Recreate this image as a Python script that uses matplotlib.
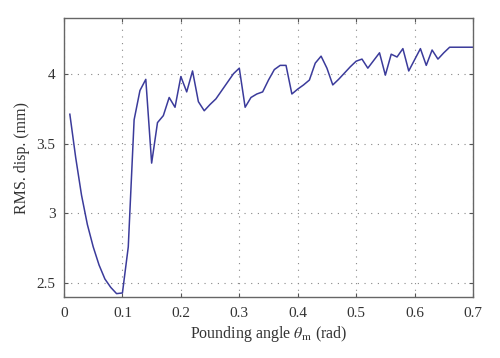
import matplotlib
matplotlib.use("Agg")
import matplotlib.pyplot as plt
import numpy as np

plt.rcParams['font.family'] = ['Liberation Serif', 'DejaVu Serif']
plt.rcParams['mathtext.fontset'] = 'stix'

theta = [0.01, 0.02, 0.03, 0.04, 0.05, 0.06, 0.07, 0.08, 0.09, 0.10,
         0.11, 0.12, 0.13, 0.14, 0.15, 0.16, 0.17, 0.18, 0.19, 0.20,
         0.21, 0.22, 0.23, 0.24, 0.25, 0.26, 0.27, 0.28, 0.29, 0.30,
         0.31, 0.32, 0.33, 0.34, 0.35, 0.36, 0.37, 0.38, 0.39, 0.40,
         0.41, 0.42, 0.43, 0.44, 0.45, 0.46, 0.47, 0.48, 0.49, 0.50,
         0.51, 0.52, 0.53, 0.54, 0.55, 0.56, 0.57, 0.58, 0.59, 0.60,
         0.61, 0.62, 0.63, 0.64, 0.65, 0.66, 0.67, 0.68, 0.69, 0.70]
rms = [3.71, 3.40, 3.13, 2.92, 2.76, 2.63, 2.53, 2.47, 2.425, 2.43,
       2.76, 3.67, 3.88, 3.96, 3.36, 3.65, 3.70, 3.83, 3.76, 3.98,
       3.87, 4.02, 3.80, 3.735, 3.78, 3.82, 3.88, 3.94, 4.00, 4.04,
       3.76, 3.83, 3.855, 3.87, 3.955, 4.03, 4.06, 4.06, 3.855, 3.89,
       3.92, 3.955, 4.076, 4.126, 4.04, 3.92, 3.96, 4.005, 4.05, 4.09,
       4.105, 4.04, 4.095, 4.15, 3.99, 4.14, 4.12, 4.18, 4.02, 4.10,
       4.18, 4.06, 4.17, 4.105, 4.15, 4.19, 4.19, 4.19, 4.19, 4.19]

xticks = [0, 0.1, 0.2, 0.3, 0.4, 0.5, 0.6, 0.7]
xticklabels = ['0', '0.1', '0.2', '0.3', '0.4', '0.5', '0.6', '0.7']
yticks = [2.5, 3, 3.5, 4]
yticklabels = ['2.5', '3', '3.5', '4']

fig = plt.figure(figsize=(5.0, 3.58), dpi=100)
ax = fig.add_axes([0.128, 0.170, 0.818, 0.780])
ax.plot(theta, rms, color='#3B3B9B', lw=1.1)
ax.set_xlim(0, 0.7)
ax.set_ylim(2.4, 4.4)
ax.set_xticks(xticks)
ax.set_xticklabels(xticklabels)
ax.set_yticks(yticks)
ax.set_yticklabels(yticklabels)
ax.grid(True, linestyle=(0, (1, 5)), color='#888888', lw=0.8)
ax.tick_params(direction='in', top=True, right=True, labelsize=11,
               color='#555555', length=3, labelcolor='#333333')
ax.tick_params(axis='x', pad=7)
ax.tick_params(axis='y', pad=6)
for s in ax.spines.values():
    s.set_color('#666666')
    s.set_linewidth(1.0)
ax.set_xlabel(r'Pounding angle $\theta_{\mathrm{m}}$ (rad)', fontsize=11.5, color='#333333', labelpad=3)
ax.set_ylabel('RMS. disp. (mm)', fontsize=11.5, color='#333333', labelpad=5)
fig.savefig('out.png', dpi=100)
